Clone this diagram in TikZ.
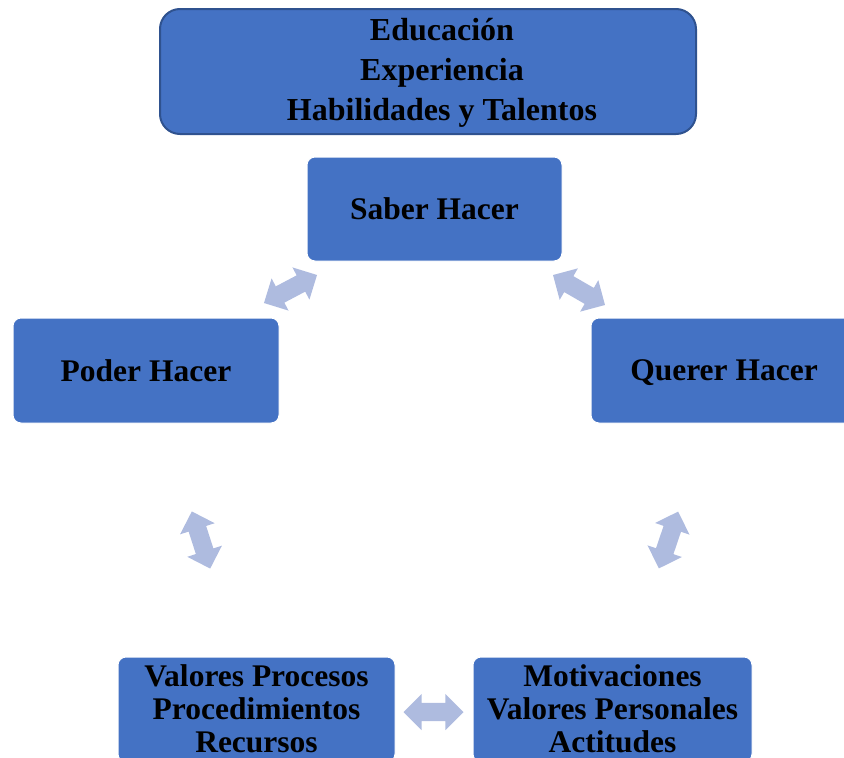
\documentclass[tikz,border=0pt]{standalone}
\usepackage{fontspec}
\setmainfont{Liberation Serif}
\usetikzlibrary{shapes.arrows}
\definecolor{boxblue}{HTML}{4472C4}
\definecolor{edgeblue}{HTML}{2F528F}
\definecolor{arrblue}{HTML}{AEBBDF}
\tikzset{
  box/.style={fill=boxblue, draw=white, line width=1pt, rounded corners=8pt, align=center,
    font=\fontsize{31.5}{40}\selectfont\bfseries, inner sep=0pt, text=black},
  lowbox/.style={box, font=\fontsize{31.5}{33}\selectfont\bfseries},
  txt/.style={align=center, font=\fontsize{32}{40}\selectfont\bfseries, inner sep=0pt, text=black},
  dbl/.style={double arrow, fill=arrblue, draw=none, minimum height=60pt, minimum width=36pt,
    inner sep=9pt, double arrow head extend=9pt, double arrow tip angle=90, sloped}
}
\begin{document}
\begin{tikzpicture}[x=1pt,y=-1pt]
\useasboundingbox (0,0) rectangle (844,758);
\clip (0,0) rectangle (844,758);
\node[box, draw=edgeblue, line width=2pt, rounded corners=20pt, minimum width=536pt, minimum height=125pt] (top) at (428,71.5) {};
\node[txt] (toptext) at (442,73) {Educación\\Experiencia\\Habilidades y Talentos};
\node[box, minimum width=255pt, minimum height=104pt] (saber) at (434.5,209) {Saber Hacer};
\node[box, minimum width=266pt, minimum height=105pt] (poder) at (146,370.5) {Poder Hacer};
\node[box, minimum width=266pt, minimum height=105pt] (querer) at (724,370.5) {};
\node[txt, font=\fontsize{31.5}{40}\selectfont\bfseries] (querertext) at (724,372.5) {Querer Hacer};
\node[lowbox, minimum width=277pt, minimum height=105pt] (valores) at (256.5,709.5) {};
\node[txt, font=\fontsize{31.5}{33}\selectfont\bfseries] (valorestext) at (256.5,708.5) {Valores Procesos\\Procedimientos\\Recursos};
\node[lowbox, minimum width=279pt, minimum height=105pt] (motiv) at (612.5,709.5) {};
\node[txt, font=\fontsize{31.5}{33}\selectfont\bfseries] (motivtext) at (612.5,708.5) {Motivaciones\\Valores Personales\\Actitudes};
\coordinate (a1s) at (264,303);
\coordinate (a1e) at (317,275);
\coordinate (a2s) at (553,275);
\coordinate (a2e) at (605,305);
\coordinate (a3s) at (192,512);
\coordinate (a3e) at (210,568);
\coordinate (a4s) at (678,512);
\coordinate (a4e) at (659,568);
\coordinate (a5s) at (404,712);
\coordinate (a5e) at (463,712);
\path (a1s) -- node[dbl] (arr1) {} (a1e);
\path (a2s) -- node[dbl] (arr2) {} (a2e);
\path (a3s) -- node[dbl] (arr3) {} (a3e);
\path (a4s) -- node[dbl] (arr4) {} (a4e);
\path (a5s) -- node[dbl] (arr5) {} (a5e);
\end{tikzpicture}
\end{document}
